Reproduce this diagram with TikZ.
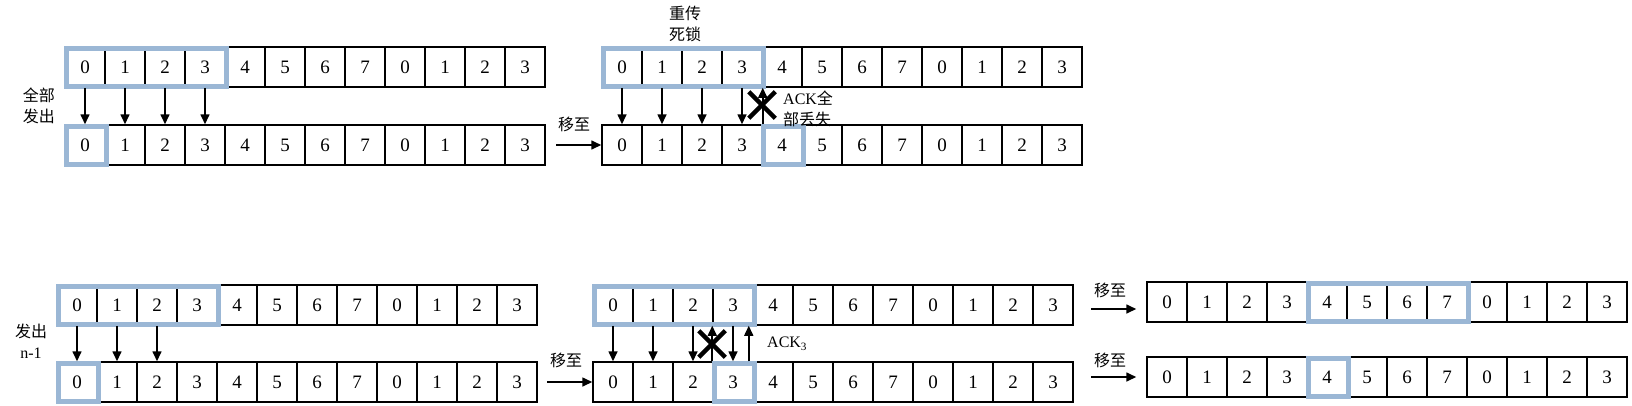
\documentclass[tikz,border=0pt]{standalone}
\usepackage{fontspec}
\setmainfont{Liberation Serif}
\newfontfamily\cjk{Noto Sans CJK SC}
\usepackage{tikz}
\usetikzlibrary{arrows.meta, positioning, shapes.misc}
\definecolor{winblue}{RGB}{155,183,213}

\newcommand{\seqrow}[3]{%
    \foreach \lbl [count=\idx from 0] in {0,1,2,3,4,5,6,7,0,1,2,3}
        \node[cell] (#1-\idx) at ({#2+20+40*\idx},#3) {\lbl};
}
\newcommand{\seqwin}[2]{%
    \draw[window] ([shift={(2pt,-2pt)}]#1.north west) rectangle ([shift={(1pt,1pt)}]#2.south east);
}

\begin{document}
\begin{tikzpicture}[x=1pt, y=-1pt,
        cell/.style={draw, line width=1.5pt, fill=white, minimum width=40pt, minimum height=40pt, inner sep=0pt, font=\fontsize{19pt}{22pt}\selectfont},
        window/.style={draw=winblue, line width=5pt},
        arr/.style={-{Triangle[length=10pt,width=9pt]}, line width=1.6pt},
        note/.style={font=\cjk\fontsize{16pt}{21pt}\selectfont, align=center, inner sep=0pt},
        lost/.style={draw, cross out, line width=4.5pt, minimum size=22pt, inner sep=0pt},
    ]
        \useasboundingbox (0,0) rectangle (1632,405);

        % all sent
        \seqrow{a1}{65}{67}
        \seqrow{a2}{65}{145}
        \seqwin{a1-0}{a1-3}
        \seqwin{a2-0}{a2-0}
        \foreach \idx in {0,...,3}
            \draw[arr] (a1-\idx.south) -- (a2-\idx.north);
        \node[note] (senda) at (39,106) {全部\\发出};

        % deadlock
        \seqrow{b1}{602}{67}
        \seqrow{b2}{602}{145}
        \seqwin{b1-0}{b1-3}
        \seqwin{b2-4}{b2-4}
        \foreach \idx in {0,...,3}
            \draw[arr] (b1-\idx.south) -- (b2-\idx.north);
        \draw[arr] (b2-3.north east) -- (b1-3.south east);
        \node[lost] (lostb) at (762,105) {};
        \node[note] (deadlock) at (685,24) {重传\\死锁};
        \node[note, align=left, anchor=west] (ackall) at (783,109) {{\rmfamily ACK}全\\部丢失};
        \coordinate (mvb) at (556,145);
        \draw[arr] (mvb) -- (b2-0.west);
        \node[note] (moveb) at (574,124) {移至};

        % n-1 sent
        \seqrow{c1}{57}{305}
        \seqrow{c2}{57}{382}
        \seqwin{c1-0}{c1-3}
        \seqwin{c2-0}{c2-0}
        \foreach \idx in {0,...,2}
            \draw[arr] (c1-\idx.south) -- (c2-\idx.north);
        \node[note] (sendc) at (31,341) {发出\\{\rmfamily n-1}};

        % ack 3
        \seqrow{d1}{593}{305}
        \seqrow{d2}{593}{382}
        \seqwin{d1-0}{d1-3}
        \seqwin{d2-3}{d2-3}
        \foreach \idx in {0,...,3}
            \draw[arr] (d1-\idx.south) -- (d2-\idx.north);
        \draw[arr] (d2-3.north west) -- (d1-3.south west);
        \draw[arr] ([xshift=-5pt]d2-3.north east) -- ([xshift=-5pt]d1-3.south east);
        \node[lost] (lostd) at (712,344) {};
        \node[note, anchor=west] (ackd) at (767,344) {\rmfamily ACK\textsubscript{3}};
        \coordinate (mvd) at (547,382);
        \draw[arr] (mvd) -- (d2-0.west);
        \node[note] (moved) at (566,360) {移至};

        % moved on
        \seqrow{e1}{1147}{302}
        \seqrow{e2}{1147}{377}
        \seqwin{e1-4}{e1-7}
        \seqwin{e2-4}{e2-4}
        \coordinate (mve1) at (1091,309);
        \coordinate (mve2) at (1091,377);
        \draw[arr] (mve1) -- ([yshift=-7pt, xshift=-10pt]e1-0.west);
        \draw[arr] (mve2) -- ([xshift=-10pt]e2-0.west);
        \node[note] (movee1) at (1110,290) {移至};
        \node[note] (movee2) at (1110,360) {移至};
\end{tikzpicture}
\end{document}
